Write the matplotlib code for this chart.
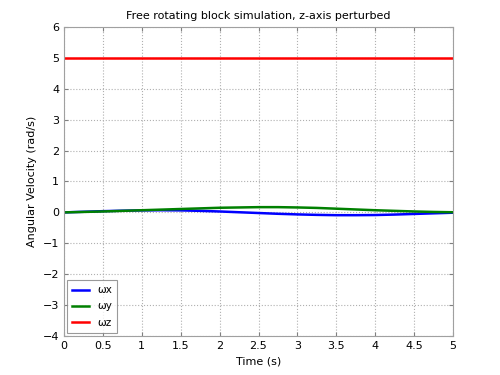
import matplotlib
matplotlib.use("Agg")
import matplotlib.pyplot as plt

# Datos
tiempo = [0, 0.25, 0.5, 0.75, 1, 1.25, 1.5, 1.75, 2, 2.25, 2.5,
          2.75, 3, 3.25, 3.5, 3.75, 4, 4.25, 4.5, 4.75, 5]
wx = [0, 0.02, 0.04, 0.055, 0.065, 0.07, 0.065, 0.05, 0.03, 0.005, -0.02,
      -0.045, -0.065, -0.08, -0.09, -0.09, -0.085, -0.07, -0.05, -0.03, -0.01]
wy = [0, 0.015, 0.03, 0.05, 0.07, 0.09, 0.11, 0.13, 0.15, 0.16, 0.17,
      0.17, 0.16, 0.145, 0.12, 0.095, 0.07, 0.05, 0.03, 0.015, 0.005]
wz = [5] * len(tiempo)

x_ticks = [0, 0.5, 1, 1.5, 2, 2.5, 3, 3.5, 4, 4.5, 5]
y_ticks = [-4, -3, -2, -1, 0, 1, 2, 3, 4, 5, 6]

plt.rcParams["font.size"] = 8

fig = plt.figure(figsize=(5, 3.75), dpi=100)
ax = fig.add_axes([0.128, 0.104, 0.778, 0.824])

ax.plot(tiempo, wx, color="#0000ff", lw=1.8, label="ωx")
ax.plot(tiempo, wy, color="#008000", lw=1.8, label="ωy")
ax.plot(tiempo, wz, color="#ff0000", lw=1.8, label="ωz")

ax.set_xlim(0, 5)
ax.set_ylim(-4, 6)
ax.set_xticks(x_ticks)
ax.set_xticklabels(["0", "0.5", "1", "1.5", "2", "2.5", "3", "3.5", "4", "4.5", "5"])
ax.set_yticks(y_ticks)
ax.grid(True, linestyle=":", color="#b0b0b0", lw=0.8)
ax.tick_params(direction="in", length=3, color="#808080",
               top=True, right=True)
for s in ax.spines.values():
    s.set_color("#a0a0a0")

ax.set_xlabel("Time (s)")
ax.set_ylabel("Angular Velocity (rad/s)")
ax.set_title("Free rotating block simulation, z-axis perturbed", fontsize=8)

leg = ax.legend(loc="lower left", fancybox=False, edgecolor="#808080",
                handlelength=1.6, borderpad=0.5, labelspacing=0.6,
                handletextpad=0.8, borderaxespad=0.3, fontsize=7.5)
leg.get_frame().set_linewidth(0.8)

fig.savefig("out.png", dpi=100)
